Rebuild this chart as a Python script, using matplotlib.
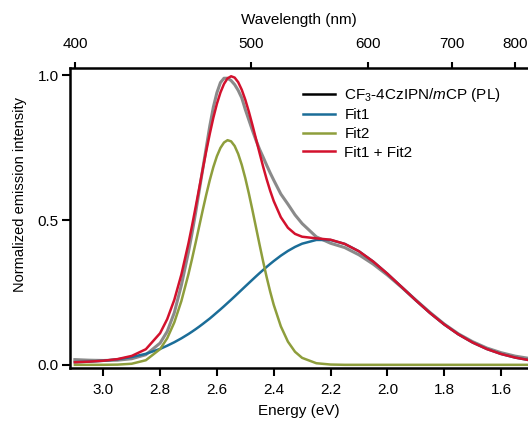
import matplotlib

matplotlib.use("Agg")
import matplotlib.pyplot as plt  # noqa: E402
import numpy as np  # noqa: E402
from matplotlib.lines import Line2D  # noqa: E402

plt.rcParams["font.family"] = ["Liberation Sans", "DejaVu Sans"]
plt.rcParams["mathtext.fontset"] = "custom"
plt.rcParams["mathtext.rm"] = "Liberation Sans"
plt.rcParams["mathtext.it"] = "Liberation Sans:italic"

# energy grid (eV) and curves
energy = [3.10, 3.05, 3.00, 2.95, 2.90, 2.85, 2.80, 2.775, 2.75, 2.725,
          2.70, 2.6875, 2.675, 2.6625, 2.65, 2.6375, 2.625, 2.6125, 2.60, 2.5875,
          2.575, 2.5625, 2.55, 2.5375, 2.525, 2.5125, 2.50, 2.4875, 2.475, 2.4625,
          2.45, 2.4375, 2.425, 2.4125, 2.40, 2.375, 2.35, 2.325, 2.30, 2.25,
          2.20, 2.15, 2.10, 2.05, 2.00, 1.95, 1.90, 1.85, 1.80, 1.75,
          1.70, 1.65, 1.60, 1.55, 1.50]
pl_data = [0.018, 0.016, 0.015, 0.016, 0.021, 0.035, 0.075, 0.115, 0.180, 0.275,
           0.390, 0.455, 0.525, 0.600, 0.675, 0.750, 0.825, 0.890, 0.940, 0.975,
           0.990, 0.990, 0.982, 0.968, 0.948, 0.922, 0.882, 0.846, 0.810, 0.776,
           0.745, 0.718, 0.690, 0.663, 0.638, 0.590, 0.555, 0.518, 0.488, 0.442,
           0.420, 0.405, 0.380, 0.348, 0.310, 0.268, 0.224, 0.181, 0.141, 0.107,
           0.080, 0.058, 0.042, 0.030, 0.022]
fit1 = [0.009, 0.011, 0.014, 0.019, 0.027, 0.038, 0.055, 0.066, 0.078, 0.0915,
        0.1065, 0.1146, 0.123, 0.1318, 0.141, 0.1505, 0.160, 0.1704, 0.181, 0.1915,
        0.2024, 0.2136, 0.2248, 0.2362, 0.2478, 0.2594, 0.271, 0.2825, 0.294, 0.3054,
        0.3166, 0.3275, 0.3382, 0.3485, 0.3584, 0.377, 0.3934, 0.4073, 0.4185, 0.4314,
        0.4312, 0.4177, 0.3922, 0.3569, 0.3148, 0.2691, 0.2230, 0.1791, 0.1395, 0.1052,
        0.0770, 0.0546, 0.0375, 0.0250, 0.0161]
fit2 = [0.0, 0.0, 0.0001, 0.0007, 0.0037, 0.0159, 0.0542, 0.0916, 0.1463, 0.2205,
        0.3136, 0.366, 0.4211, 0.4775, 0.5337, 0.5878, 0.6383, 0.6832, 0.7207, 0.7493,
        0.768, 0.776, 0.772, 0.756, 0.7285, 0.6908, 0.6446, 0.5918, 0.5347, 0.4753,
        0.4159, 0.358, 0.3033, 0.2529, 0.2074, 0.133, 0.080, 0.045, 0.024, 0.0055,
        0.001, 0.0, 0.0, 0.0, 0.0, 0.0, 0.0, 0.0, 0.0, 0.0,
        0.0, 0.0, 0.0, 0.0, 0.0]
wavelength_ticks = [400, 500, 600, 700, 800]

E = np.array(energy)
f1 = np.array(fit1)
f2 = np.array(fit2)

fig = plt.figure(figsize=(5.28, 4.23), dpi=100)
ax = fig.add_axes([0.1326, 0.130, 0.8674, 0.709])

c_pl, c_f1, c_f2, c_sum = "#8a8a8a", "#1b6d98", "#8e9e3c", "#d3112d"
ax.plot(E, pl_data, color=c_pl, lw=2.2, zorder=2)
ax.plot(E, f1, color=c_f1, lw=1.8, zorder=3)
ax.plot(E, f2, color=c_f2, lw=1.8, zorder=4)
ax.plot(E, f1 + f2, color=c_sum, lw=1.8, zorder=5)

ax.set_xlim(3.117, 1.505)
ax.set_ylim(-0.011, 1.025)
ax.set_xticks([3.0, 2.8, 2.6, 2.4, 2.2, 2.0, 1.8, 1.6])
ax.set_xticklabels(["3.0", "2.8", "2.6", "2.4", "2.2", "2.0", "1.8", "1.6"])
ax.set_yticks([0.0, 0.5, 1.0])
ax.set_yticklabels(["0.0", "0.5", "1.0"])
ax.spines["right"].set_visible(False)
for s in ("left", "bottom", "top"):
    ax.spines[s].set_linewidth(1.8)
ax.tick_params(axis="x", direction="out", length=6, width=1.5, labelsize=11,
               pad=5, top=False)
ax.tick_params(axis="y", direction="out", length=6, width=1.5, labelsize=11,
               pad=2, right=False)
ax.set_xlabel("Energy (eV)", fontsize=11, labelpad=5)
ax.set_ylabel("Normalized emission intensity", fontsize=10.5, labelpad=8, y=0.58)

top = ax.twiny()
top.set_xlim(ax.get_xlim())
top.set_xticks([1239.84 / w for w in wavelength_ticks])
top.set_xticklabels([str(w) for w in wavelength_ticks])
top.tick_params(axis="x", direction="out", length=4, width=1.5, labelsize=11, pad=8)
for s in top.spines.values():
    s.set_visible(False)
top.set_xlabel("Wavelength (nm)", fontsize=11, labelpad=10)

handles = [
    Line2D([], [], color="black", lw=1.8),
    Line2D([], [], color=c_f1, lw=1.8),
    Line2D([], [], color=c_f2, lw=1.8),
    Line2D([], [], color=c_sum, lw=1.8),
]
labels = [r"CF$_3$-4CzIPN/$m$CP (PL)", "Fit1", "Fit2", "Fit1 + Fit2"]
fig.legend(handles, labels, loc="upper left", bbox_to_anchor=(0.574, 0.797),
           frameon=False, fontsize=11, handlelength=2.1, handletextpad=0.6,
           labelspacing=0.3, borderpad=0, borderaxespad=0)

fig.savefig("out.png", dpi=100)
plt.close(fig)
